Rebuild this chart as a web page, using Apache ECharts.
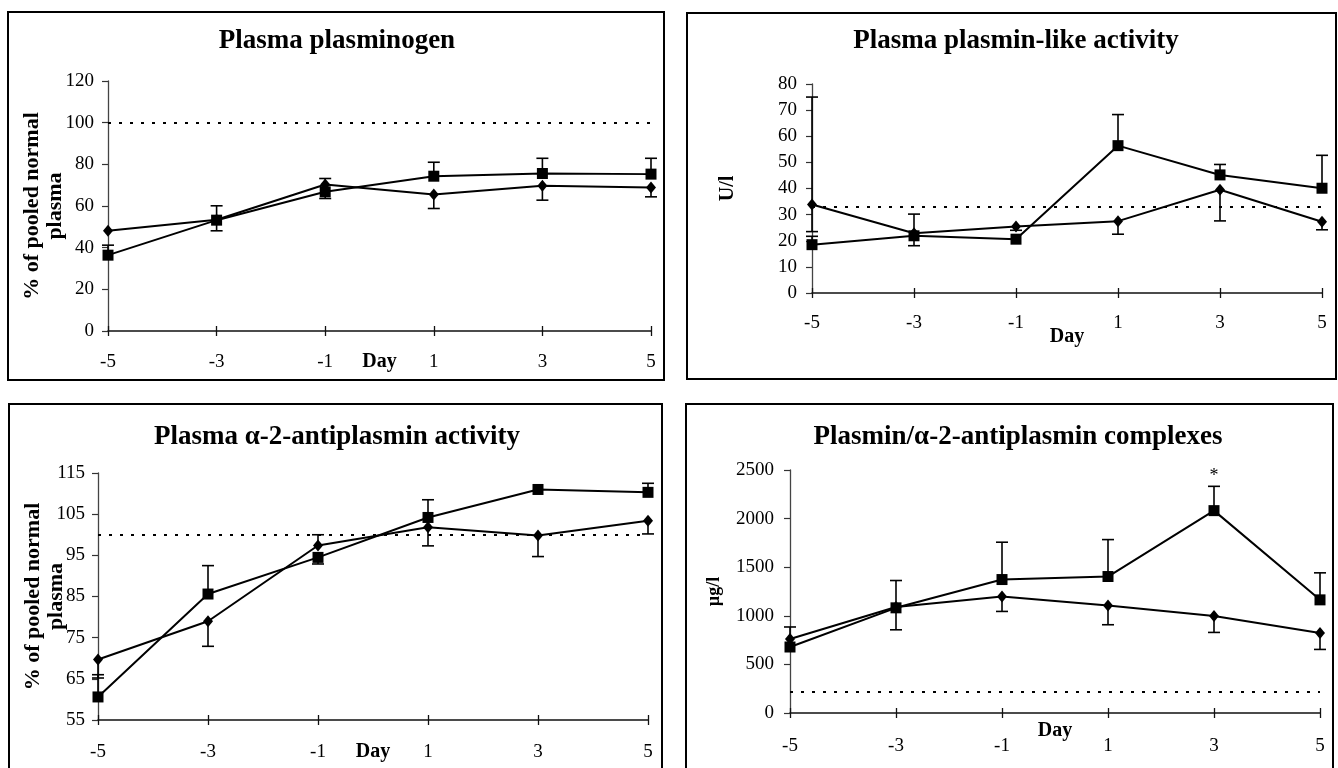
<!DOCTYPE html>
<html>
<head>
<meta charset="utf-8">
<script src="https://cdn.jsdelivr.net/npm/echarts@6/dist/echarts.min.js"></script>
<style>
html,body{margin:0;padding:0;background:#fff;}
#chart{width:1338px;height:768px;}
</style>
</head>
<body>
<div id="chart"></div>
<script>
// ---------- data ----------
const days = ['-5', '-3', '-1', '1', '3', '5'];

// Panel 1: Plasma plasminogen (% of pooled normal plasma)
const p1Title = 'Plasma plasminogen';
const p1YName = '% of pooled normal\nplasma';
const p1Ticks = [0, 20, 40, 60, 80, 100, 120];
const p1Square = [36.4, 53.2, 66.8, 74.3, 75.6, 75.3];
const p1SquareErr = [[41.2], [60.1], [63.6], [81.0], [82.9], [82.9]];
const p1Diamond = [48.1, 53.4, 70.3, 65.5, 69.7, 68.9];
const p1DiamondErr = [[], [48.1], [73.2], [58.8], [62.8], [64.4]];
const p1Ref = 100;

// Panel 2: Plasma plasmin-like activity (U/l)
const p2Title = 'Plasma plasmin-like activity';
const p2YName = 'U/l';
const p2Ticks = [0, 10, 20, 30, 40, 50, 60, 70, 80];
const p2Square = [18.5, 21.9, 20.6, 56.4, 45.2, 40.1];
const p2SquareErr = [[21.7], [30.2], [], [68.3], [49.2], [52.7]];
const p2Diamond = [33.9, 22.9, 25.5, 27.5, 39.5, 27.3];
const p2DiamondErr = [[23.5, 75], [18.1], [24.0], [22.5], [27.6], [24.2]];
const p2Ref = 33;

// Panel 3: Plasma alpha-2-antiplasmin activity (% of pooled normal plasma)
const p3Title = 'Plasma \u03b1-2-antiplasmin activity';
const p3YName = '% of pooled normal\nplasma';
const p3Ticks = [55, 65, 75, 85, 95, 105, 115];
const p3Square = [60.6, 85.6, 94.5, 104.2, 111.0, 110.3];
const p3SquareErr = [[66.0], [92.5], [92.9], [108.5], [], [112.5]];
const p3Diamond = [69.7, 79.0, 97.4, 101.8, 99.8, 103.4];
const p3DiamondErr = [[65.2], [72.9], [100.0], [97.3], [94.7], [100.2]];
const p3Ref = 100;

// Panel 4: Plasmin/alpha-2-antiplasmin complexes (ug/l)
const p4Title = 'Plasmin/\u03b1-2-antiplasmin complexes';
const p4YName = '\u00b5g/l';
const p4Ticks = [0, 500, 1000, 1500, 2000, 2500];
const p4Square = [679, 1082, 1373, 1404, 2082, 1164];
const p4SquareErr = [[885], [1363], [1757], [1784], [2332], [1442]];
const p4Diamond = [761, 1090, 1199, 1106, 997, 822];
const p4DiamondErr = [[], [856], [1045], [908], [829], [654]];
const p4Ref = 215;
const p4StarDay = '3';
const p4StarValue = 2440;

// ---------- layout (pixels) ----------
const FONT = 'Liberation Serif';
const panels = [
  {title: p1Title, yName: p1YName, ticks: p1Ticks, sq: p1Square, sqErr: p1SquareErr, di: p1Diamond, diErr: p1DiamondErr, ref: p1Ref,
   grid: {left: 108, right: 687, top: 81, bottom: 437}, titlePos: [337, 28], yGap: 41, yNameSize: 22, xLabMargin: 22, dayGap: 21, yLabMargin: 14,
   box: [8, 12, 656, 368]},
  {title: p2Title, yName: p2YName, ticks: p2Ticks, sq: p2Square, sqErr: p2SquareErr, di: p2Diamond, diErr: p2DiamondErr, ref: p2Ref,
   grid: {left: 812, right: 16, top: 84, bottom: 475}, titlePos: [1016, 28], yGap: 73, yNameSize: 20, xLabMargin: 21, dayGap: 34, yLabMargin: 15,
   box: [687, 13, 649, 366]},
  {title: p3Title, yName: p3YName, ticks: p3Ticks, sq: p3Square, sqErr: p3SquareErr, di: p3Diamond, diErr: p3DiamondErr, ref: p3Ref,
   grid: {left: 98, right: 690, top: 473, bottom: 48}, titlePos: [337, 424], yGap: 30, yNameSize: 22, xLabMargin: 23, dayGap: 22, yLabMargin: 13,
   box: [9, 404, 653, 370]},
  {title: p4Title, yName: p4YName, ticks: p4Ticks, sq: p4Square, sqErr: p4SquareErr, di: p4Diamond, diErr: p4DiamondErr, ref: p4Ref,
   grid: {left: 790, right: 18, top: 470, bottom: 55}, titlePos: [1018, 424], yGap: 64, yNameSize: 18, xLabMargin: 24, dayGap: 8, yLabMargin: 16,
   box: [686, 404, 647, 370]}
];

const option = {
  backgroundColor: '#fff',
  animation: false,
  title: [], grid: [], xAxis: [], yAxis: [], series: [],
  graphic: []
};

function errSeries(g, vals, caps) {
  const data = [];
  vals.forEach((v, i) => { (caps[i] || []).forEach(c => data.push([i, v, c])); });
  return {
    type: 'custom', xAxisIndex: 2 * g, yAxisIndex: g, z: 3, silent: true,
    data: data,
    encode: {x: 0, y: [1, 2]},
    renderItem: function (params, api) {
      const p0 = api.coord([api.value(0), api.value(1)]);
      const p1 = api.coord([api.value(0), api.value(2)]);
      return {type: 'group', children: [
        {type: 'line', shape: {x1: p0[0], y1: p0[1], x2: p1[0], y2: p1[1]}, style: {stroke: '#000', lineWidth: 1.6}},
        {type: 'line', shape: {x1: p1[0] - 6, y1: p1[1], x2: p1[0] + 6, y2: p1[1]}, style: {stroke: '#000', lineWidth: 1.6}}
      ]};
    }
  };
}

panels.forEach((p, g) => {
  option.grid.push(Object.assign({containLabel: false}, p.grid));
  option.title.push({
    text: p.title, left: p.titlePos[0], top: p.titlePos[1], textAlign: 'center', padding: 0,
    textStyle: {fontFamily: FONT, fontWeight: 'bold', fontSize: 27, color: '#000'}
  });
  const tickMin = p.ticks[0], tickMax = p.ticks[p.ticks.length - 1];
  option.xAxis.push({
    type: 'category', gridIndex: g, data: days, boundaryGap: false, position: 'bottom',
    axisLine: {onZero: false, lineStyle: {color: '#111', width: 1.5}},
    axisTick: {show: true, length: 5, alignWithLabel: true, lineStyle: {color: '#111', width: 1.3}},
    axisLabel: {margin: p.xLabMargin, fontFamily: FONT, fontSize: 19, color: '#000'},
    name: 'Day', nameLocation: 'middle', nameGap: p.dayGap, nameMoveOverlap: false,
    nameTextStyle: {fontFamily: FONT, fontWeight: 'bold', fontSize: 20, color: '#000'},
    splitLine: {show: false}
  });
  option.xAxis.push({
    type: 'category', gridIndex: g, data: days, boundaryGap: false, position: 'bottom',
    axisLine: {show: false, onZero: false},
    axisTick: {show: true, inside: true, length: 5, lineStyle: {color: '#111', width: 1.3}},
    axisLabel: {show: false}, splitLine: {show: false}
  });
  option.yAxis.push({
    type: 'value', gridIndex: g, min: tickMin, max: tickMax,
    interval: p.ticks[1] - p.ticks[0],
    axisLine: {show: true, lineStyle: {color: '#444', width: 1.3}},
    axisTick: {show: true, length: 6, customValues: p.ticks, lineStyle: {color: '#333', width: 1.2}},
    axisLabel: {margin: p.yLabMargin, customValues: p.ticks, formatter: v => String(v),
      fontFamily: FONT, fontSize: 19, color: '#000'},
    splitLine: {show: false},
    name: p.yName, nameLocation: 'middle', nameGap: p.yGap, nameMoveOverlap: false,
    nameTextStyle: {fontFamily: FONT, fontWeight: 'bold', fontSize: p.yNameSize, lineHeight: 23, color: '#000'}
  });
  // reference dotted line
  option.series.push({
    type: 'line', xAxisIndex: 2 * g, yAxisIndex: g, data: [], silent: true,
    markLine: {
      silent: true, symbol: 'none', label: {show: false},
      lineStyle: {color: '#000', type: [3, 8], width: 2},
      data: [{yAxis: p.ref}]
    }
  });
  option.series.push(errSeries(g, p.sq, p.sqErr));
  option.series.push(errSeries(g, p.di, p.diErr));
  option.series.push({
    type: 'line', xAxisIndex: 2 * g, yAxisIndex: g, data: p.di, z: 4,
    symbol: 'diamond', symbolSize: [10, 12], showAllSymbol: true,
    lineStyle: {color: '#000', width: 2}, itemStyle: {color: '#000'}
  });
  const sqSeries = {
    type: 'line', xAxisIndex: 2 * g, yAxisIndex: g, data: p.sq, z: 5,
    symbol: 'rect', symbolSize: 11, showAllSymbol: true,
    lineStyle: {color: '#000', width: 2}, itemStyle: {color: '#000'}
  };
  if (g === 3) {
    sqSeries.markPoint = {
      symbol: 'circle', symbolSize: 0,
      label: {show: true, position: 'inside', formatter: '*', fontFamily: FONT, fontSize: 18, color: '#000'},
      data: [{coord: [p4StarDay, p4StarValue]}]
    };
  }
  option.series.push(sqSeries);
  option.graphic.push({
    type: 'rect', shape: {x: p.box[0], y: p.box[1], width: p.box[2], height: p.box[3]},
    style: {fill: 'none', stroke: '#000', lineWidth: 2}, silent: true, z: -1
  });
});

const chart = echarts.init(document.getElementById('chart'), null, {renderer: 'canvas'});
chart.setOption(option);
</script>
</body>
</html>
